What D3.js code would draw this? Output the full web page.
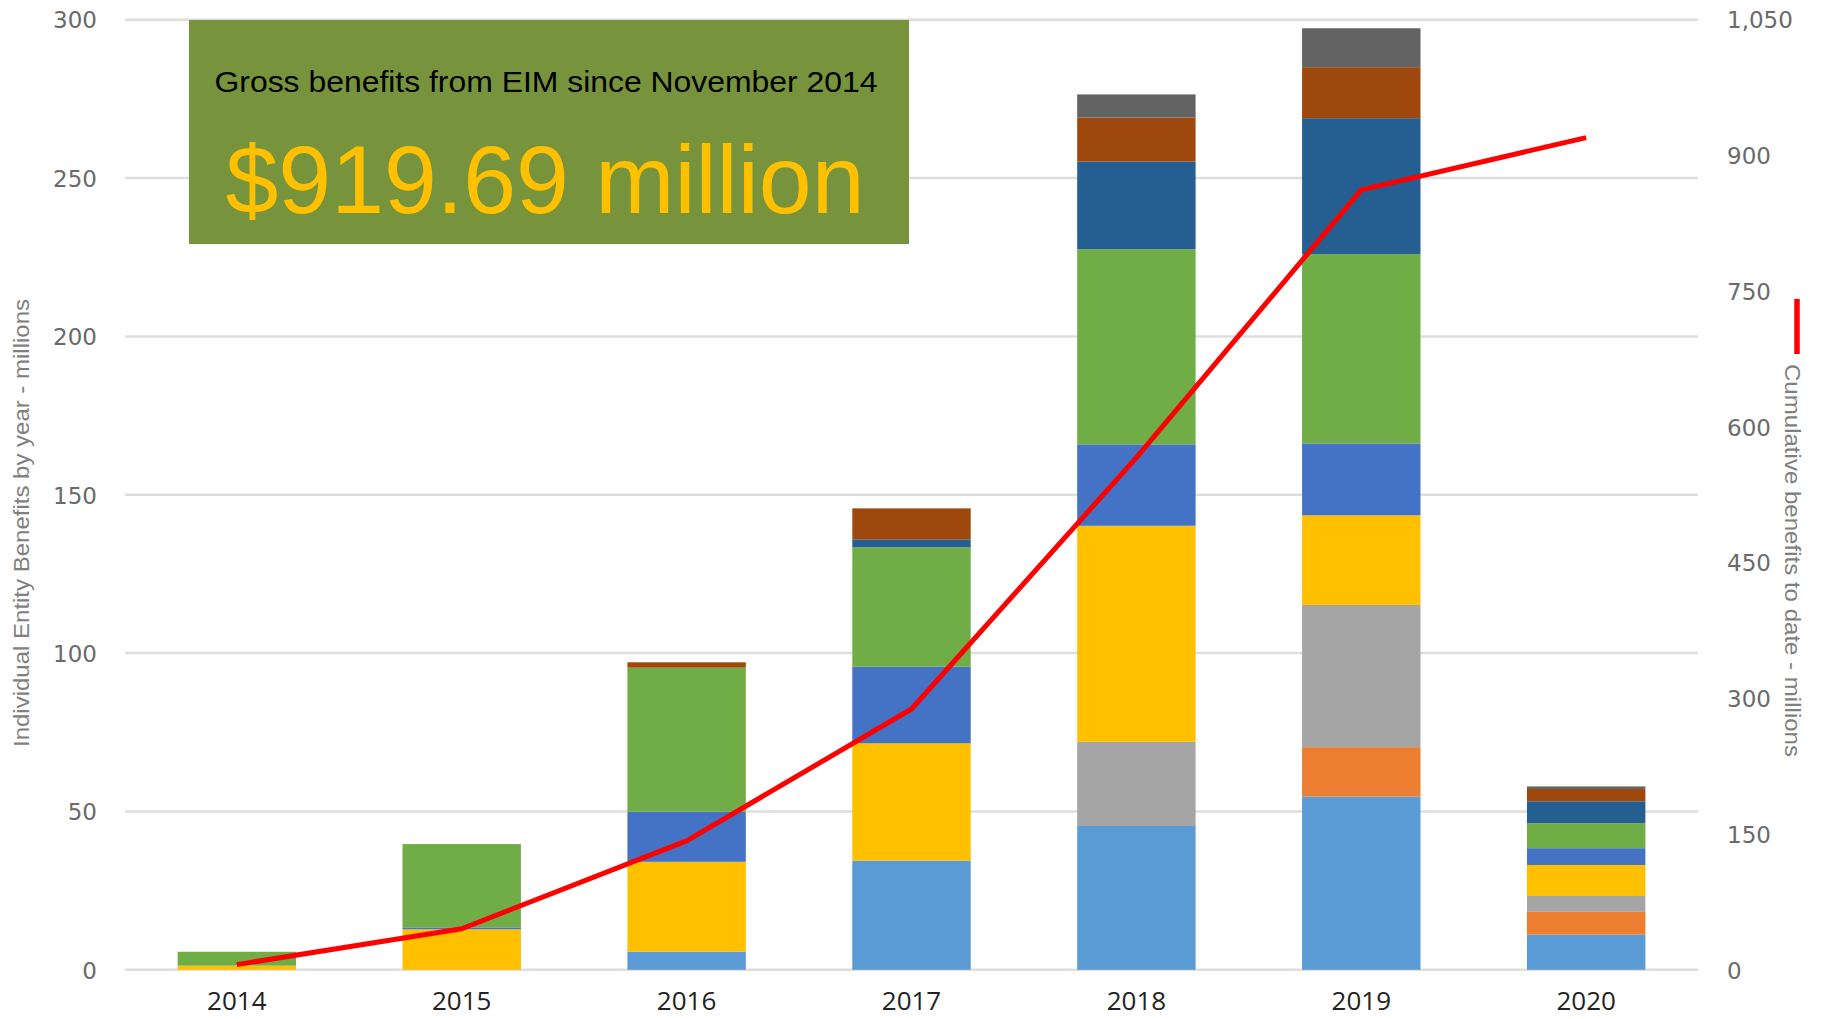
<!DOCTYPE html>
<html>
<head>
<meta charset="utf-8">
<script src="https://cdn.jsdelivr.net/npm/d3@7"></script>
<style>
  html, body { margin: 0; padding: 0; background: #ffffff; }
  svg { display: block; }
</style>
</head>
<body>
<svg id="chart" width="1821" height="1019"></svg>
<script>
// ---- data ----
const years = ['2014', '2015', '2016', '2017', '2018', '2019', '2020'];
const seriesKeys = ['e1', 'e2', 'e3', 'e4', 'e5', 'e6', 'e7', 'e8', 'e9'];
const seriesColors = ['#5B9BD5', '#ED7D31', '#A5A5A5', '#FFC000', '#4472C4', '#70AD47', '#255E91', '#9E480E', '#636363'];
const e1 = [0, 0, 5.7, 34.5, 45.4, 54.7, 11.1];
const e2 = [0, 0, 0, 0, 0, 15.6, 7.2];
const e3 = [0, 0, 0, 0, 26.6, 44.9, 5.0];
const e4 = [1.3, 12.8, 28.4, 37.0, 68.2, 28.3, 9.8];
const e5 = [0, 0.6, 15.8, 24.2, 25.7, 22.7, 5.3];
const e6 = [4.4, 26.3, 45.5, 37.7, 61.6, 59.8, 7.9];
const e7 = [0, 0, 0, 2.5, 27.7, 42.9, 6.9];
const e8 = [0, 0, 1.7, 9.8, 13.9, 16.1, 3.9];
const e9 = [0, 0, 0, 0, 7.3, 12.3, 0.8];
const cumulative = [5.7, 45.4, 142.5, 288.2, 566, 862, 919.69];
const leftTicks = [0, 50, 100, 150, 200, 250, 300];
const rightTicks = [0, 150, 300, 450, 600, 750, 900, 1050];
const leftTitle = 'Individual Entity Benefits by year - millions';
const rightTitle = 'Cumulative benefits to date - millions';
const boxLine1 = 'Gross benefits from EIM since November 2014';
const boxLine2 = '$919.69 million';

// ---- build table ----
const seriesValues = [e1, e2, e3, e4, e5, e6, e7, e8, e9];
const table = years.map((y, i) => {
  const row = { year: y };
  seriesKeys.forEach((k, j) => { row[k] = seriesValues[j][i]; });
  return row;
});

const svg = d3.select('#chart');
const plotLeft = 125, plotRight = 1698, plotTop = 19.7, plotBottom = 969.8;

const x = d3.scaleBand().domain(years).range([plotLeft, plotRight]).paddingInner(0.4735).paddingOuter(0.234);
const yL = d3.scaleLinear().domain([0, 300]).range([plotBottom, plotTop]);
const yR = d3.scaleLinear().domain([0, 1050]).range([plotBottom, plotTop]);

// gridlines
svg.append('g').selectAll('line').data(leftTicks).join('line')
  .attr('x1', plotLeft).attr('x2', plotRight)
  .attr('y1', d => yL(d)).attr('y2', d => yL(d))
  .attr('stroke', '#dedede').attr('stroke-width', 2.5);

// left axis labels
const leftAxis = d3.axisLeft(yL).tickValues(leftTicks).tickSize(0).tickPadding(0).tickFormat(d3.format('d'));
const gL = svg.append('g').attr('transform', 'translate(97,0)').call(leftAxis);
gL.select('.domain').remove();
gL.selectAll('text').attr('font-family', 'DejaVu Sans, Verdana, sans-serif').attr('font-size', 23)
  .attr('fill', '#6a6a6a').attr('dy', '0.36em');

// right axis labels
const rightAxis = d3.axisRight(yR).tickValues(rightTicks).tickSize(0).tickPadding(0).tickFormat(d3.format(','));
const gR = svg.append('g').attr('transform', 'translate(1727,0)').call(rightAxis);
gR.select('.domain').remove();
gR.selectAll('text').attr('font-family', 'DejaVu Sans, Verdana, sans-serif').attr('font-size', 23)
  .attr('fill', '#6a6a6a').attr('dy', '0.36em');

// bottom axis labels
const bottomAxis = d3.axisBottom(x).tickSize(0).tickPadding(0);
const gB = svg.append('g').attr('transform', 'translate(0,1001)').call(bottomAxis);
gB.select('.domain').remove();
gB.selectAll('text').attr('font-family', 'Open Sans, sans-serif').attr('font-size', 26)
  .attr('fill', '#222222').attr('dy', '0.36em');

// stacked bars
const stack = d3.stack().keys(seriesKeys)(table);
svg.append('g').selectAll('g').data(stack).join('g')
  .attr('fill', (d, i) => seriesColors[i])
  .selectAll('rect').data(d => d).join('rect')
  .attr('x', d => x(d.data.year))
  .attr('width', x.bandwidth())
  .attr('y', d => yL(d[1]))
  .attr('height', d => Math.max(0, yL(d[0]) - yL(d[1])));

// cumulative line
const line = d3.line().x((d, i) => x(years[i]) + x.bandwidth() / 2).y(d => yR(d));
svg.append('path').datum(cumulative)
  .attr('d', line).attr('fill', 'none').attr('stroke', '#FF0000')
  .attr('stroke-width', 5).attr('stroke-linejoin', 'round').attr('stroke-linecap', 'butt');

// left title
svg.append('text')
  .attr('transform', 'translate(29,523) rotate(-90)')
  .attr('text-anchor', 'middle')
  .attr('font-family', 'Liberation Sans Narrow, Liberation Sans, Arial, sans-serif')
  .attr('font-size', 22).attr('fill', '#7f7f7f')
  .attr('textLength', 448).attr('lengthAdjust', 'spacingAndGlyphs')
  .text(leftTitle);

// right title
svg.append('text')
  .attr('transform', 'translate(1785,560.5) rotate(90)')
  .attr('text-anchor', 'middle')
  .attr('font-family', 'Liberation Sans Narrow, Liberation Sans, Arial, sans-serif')
  .attr('font-size', 22).attr('fill', '#7f7f7f')
  .attr('textLength', 393).attr('lengthAdjust', 'spacingAndGlyphs')
  .text(rightTitle);

// legend mark for line
svg.append('line')
  .attr('x1', 1797).attr('x2', 1797).attr('y1', 299).attr('y2', 354)
  .attr('stroke', '#FF0000').attr('stroke-width', 5.5);

// highlight box
svg.append('rect').attr('x', 189).attr('y', 20).attr('width', 720).attr('height', 224)
  .attr('fill', '#77933C');
svg.append('text').attr('x', 546).attr('y', 91.5).attr('text-anchor', 'middle')
  .attr('font-family', 'Liberation Sans, Arial, sans-serif').attr('font-size', 30)
  .attr('fill', '#000000')
  .attr('textLength', 663).attr('lengthAdjust', 'spacingAndGlyphs')
  .text(boxLine1);
svg.append('text').attr('x', 545).attr('y', 212.5).attr('text-anchor', 'middle')
  .attr('font-family', 'Liberation Sans, Arial, sans-serif').attr('font-size', 97)
  .attr('fill', '#FFC000')
  .attr('textLength', 639).attr('lengthAdjust', 'spacingAndGlyphs')
  .text(boxLine2);
</script>
</body>
</html>
